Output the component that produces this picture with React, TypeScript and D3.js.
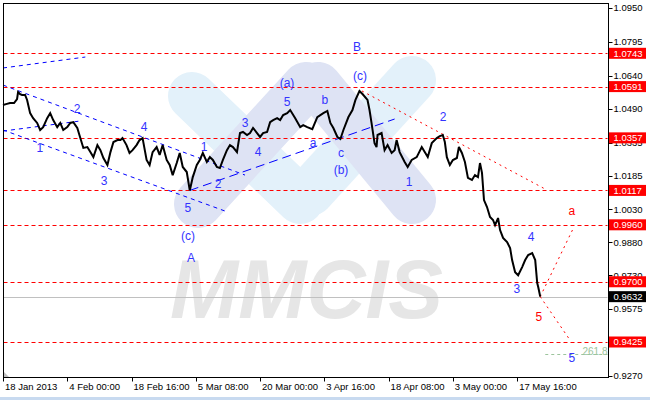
import React from "react";
import * as d3 from "d3";

// ---------- data ----------
const bars = [
  0, 3, 7, 11, 14, 15, 17, 19, 22, 24, 27, 30, 34, 37, 40, 44, 47, 50, 54, 57, 60, 64, 67, 70, 74, 77, 80, 84, 87, 90,
  94, 97, 100, 104, 107, 110, 114, 117, 119, 123, 126, 129, 133, 136, 139, 143, 146, 149, 153, 156, 159, 163, 166, 169,
  173, 176, 179, 183, 186, 189, 193, 196, 199, 203, 206, 209, 213, 216, 219, 223, 226, 229, 233, 236, 239, 243, 246, 249,
  253, 256, 259, 263, 266, 269, 273, 276, 279, 283, 286, 291, 296, 299, 303, 308, 313, 319, 323, 326, 329, 333, 336, 339,
  344, 348, 351, 355, 358, 363, 365, 367, 370, 372, 373, 377, 380, 383, 387, 390, 392, 395, 400, 403, 407, 412, 417, 420,
  423, 427, 432, 435, 438, 440, 442, 445, 448, 452, 454, 457, 460, 463, 467, 470, 473, 475, 477, 479, 482, 485, 488, 490,
  493, 495, 498, 502, 505, 507, 510, 513, 517, 520, 523, 527, 530, 532, 533, 535,
];
const closes = [
  1.0507, 1.0511, 1.0516, 1.0516, 1.0534, 1.0566, 1.0557, 1.0553, 1.0553, 1.053, 1.047, 1.0447, 1.0425, 1.0393, 1.0406,
  1.0447, 1.047, 1.0438, 1.0406, 1.0425, 1.0393, 1.0406, 1.0425, 1.0429, 1.0402, 1.0356, 1.0311, 1.0315, 1.0292, 1.0269,
  1.0324, 1.0301, 1.0265, 1.0233, 1.0292, 1.0338, 1.0347, 1.0347, 1.0356, 1.0324, 1.0288, 1.0301, 1.0324, 1.0347, 1.0356,
  1.0256, 1.0233, 1.0292, 1.0315, 1.0279, 1.0324, 1.0256, 1.0233, 1.0187, 1.0242, 1.0288, 1.0224, 1.0201, 1.0117, 1.0178,
  1.0233, 1.0256, 1.0288, 1.0247, 1.0269, 1.0256, 1.0224, 1.0219, 1.0256, 1.0301, 1.0324, 1.0315, 1.0292, 1.0379, 1.0384,
  1.037, 1.0379, 1.0402, 1.0379, 1.0361, 1.0379, 1.0384, 1.0429, 1.0438, 1.0447, 1.0438, 1.0461, 1.047, 1.0484, 1.0447,
  1.0406, 1.0415, 1.0406, 1.0397, 1.0452, 1.047, 1.048, 1.0425, 1.0402, 1.0361, 1.0352, 1.0393, 1.0452, 1.0484, 1.053,
  1.0571, 1.0557, 1.053, 1.0484, 1.0425, 1.0333, 1.0315, 1.037, 1.0379, 1.0301, 1.0324, 1.0288, 1.0301, 1.0347, 1.0292,
  1.0247, 1.0224, 1.0256, 1.0269, 1.0315, 1.0292, 1.0269, 1.0333, 1.0356, 1.0365, 1.037, 1.0338, 1.0269, 1.0233, 1.0256,
  1.0265, 1.0315, 1.0288, 1.0247, 1.0174, 1.0165, 1.0187, 1.0178, 1.0242, 1.0197, 1.0073, 1.0041, 0.9996, 0.9982, 0.9959,
  0.9991, 0.9936, 0.99, 0.9881, 0.9854, 0.9799, 0.9744, 0.973, 0.9767, 0.9799, 0.9822, 0.9831, 0.9799, 0.9694, 0.9676,
  0.9632,
];

const xTickBars = [0, 64, 128, 192, 256, 320, 384, 448, 512];
const xTickLabels = [
  "18 Jan 2013", "4 Feb 00:00", "18 Feb 16:00", "5 Mar 08:00", "20 Mar 00:00",
  "3 Apr 16:00", "18 Apr 08:00", "3 May 00:00", "17 May 16:00",
];
const yTickValues = [1.095, 1.0795, 1.064, 1.049, 1.0335, 1.0185, 1.003, 0.988, 0.973, 0.9575, 0.9425, 0.927];

const redLevels = [1.0743, 1.0591, 1.0357, 1.0117, 0.996, 0.97, 0.9425];
const currentPrice = 0.9632;
const fiboLevel = 0.937;

// annotation lines: [bar1, price1, bar2, price2]
const blueDashLines = [
  [0, 1.0676, 82, 1.0726],
  [0, 1.0598, 241, 1.0187],
  [0, 1.0393, 224, 1.0018],
  [0, 1.0388, 77, 1.0434],
];
const blueLongDashLines = [[186, 1.0117, 390, 1.0443]];
const redDotLines = [
  [357.5, 1.0571, 540, 1.0123],
  [535, 0.9632, 567.6, 0.9941],
  [535, 0.9632, 564.6, 0.9434],
];

// wave labels: [bar, price, text]
const blueLabels: [number, number, string][] = [
  [352.5, 1.0772, "B"], [355.5, 1.0639, "(c)"], [282.8, 1.0607, "(a)"], [282.8, 1.052, "5"],
  [320.6, 1.053, "b"], [241, 1.0424, "3"], [254, 1.0292, "4"], [308.7, 1.0333, "a"],
  [336.6, 1.0288, "c"], [336.6, 1.021, "(b)"], [200.2, 1.0315, "1"], [214.1, 1.0146, "2"],
  [184.2, 1.0036, "5"], [184.2, 0.9909, "(c)"], [187.2, 0.9808, "A"], [73.7, 1.0488, "2"],
  [140.4, 1.0406, "4"], [36.8, 1.0311, "1"], [100.6, 1.016, "3"], [438.2, 1.0452, "2"],
  [404.3, 1.0155, "1"], [525.8, 0.9904, "4"], [511.8, 0.9667, "3"], [566.6, 0.9352, "5"],
];
const redLabels: [number, number, string][] = [
  [533.7, 0.9539, "5"], [566.6, 1.0023, "a"],
];

// ---------- component ----------
export default function App() {
  const x = d3.scaleLinear().domain([0, 600]).range([3, 605.5]);
  const y = d3.scaleLinear().domain([0.92629, 1.09704]).range([377.5, 3.5]);
  const left = 3.5, right = 607.5, top = 3.5, bottom = 377.5;

  const pricePath = d3
    .line<number>()
    .x((_, i) => x(bars[i]))
    .y((d) => y(d))(closes) as string;

  const font = "'Liberation Sans', Arial, sans-serif";

  const seg = (l: number[], i: number, stroke: string, dash: string, w = 1) => (
    <line key={i} x1={x(l[0])} y1={y(l[1])} x2={x(l[2])} y2={y(l[3])} stroke={stroke} strokeWidth={w} strokeDasharray={dash} />
  );

  return (
    <svg width={650} height={400} style={{ position: "fixed", left: 0, top: 0, background: "#fff" }} fontFamily={font}>
      <rect x={0} y={0} width={650} height={400} fill="#fff" />
      {/* watermark logo */}
      <g strokeLinecap="round" strokeWidth={48} fill="none">
        <line x1={192} y1={96} x2={300} y2={200} stroke="#e3f1fa" />
        <line x1={412} y1={80} x2={310} y2={192} stroke="#e3f1fa" />
        <line x1={198} y1={204} x2={306} y2={86} stroke="#dee3f4" />
        <line x1={318} y1={86} x2={412} y2={200} stroke="#dee3f4" />
      </g>
      <text x={170} y={318} fontSize={84} fontWeight="bold" fontStyle="italic" fill="#e6e6e6" textLength={273} lengthAdjust="spacingAndGlyphs">
        MMCIS
      </text>

      {/* current price line */}
      <line x1={left} x2={right} y1={Math.round(y(currentPrice)) + 0.5} y2={Math.round(y(currentPrice)) + 0.5} stroke="#c0c0c0" strokeWidth={1} />

      {/* red level lines */}
      {redLevels.map((v, i) => {
        const yy = Math.round(y(v)) + 0.5;
        return <line key={i} x1={left} x2={right} y1={yy} y2={yy} stroke="#ff0000" strokeWidth={1} strokeDasharray="4,3" />;
      })}

      {/* fibo 261.8 */}
      <line x1={x(540)} x2={right} y1={Math.round(y(fiboLevel)) + 0.5} y2={Math.round(y(fiboLevel)) + 0.5} stroke="#9cc49c" strokeWidth={1} strokeDasharray="3,3" />
      <text x={x(589.5)} y={y(0.938)} fontSize={10} fill="#9cc49c" textAnchor="middle" dy="0.35em">261.8</text>

      {/* wave lines */}
      {blueDashLines.map((l, i) => seg(l, i, "#0000ff", "4,4"))}
      {blueLongDashLines.map((l, i) => seg(l, i, "#0000ff", "9,5"))}
      {redDotLines.map((l, i) => seg(l, i, "#ff0000", "2,4"))}

      {/* price line */}
      <path d={pricePath} fill="none" stroke="#000" strokeWidth={2} strokeLinejoin="miter" strokeMiterlimit={3} />

      {/* labels */}
      {blueLabels.map(([b, p, t], i) => (
        <text key={i} x={x(b)} y={y(p)} fontSize={12} fill="#3333ff" textAnchor="middle" dy="0.35em">{t}</text>
      ))}
      {redLabels.map(([b, p, t], i) => (
        <text key={i} x={x(b)} y={y(p)} fontSize={12} fill="#ff0000" textAnchor="middle" dy="0.35em">{t}</text>
      ))}

      {/* frame */}
      <rect x={left} y={top} width={right - left + 1} height={bottom - top} fill="none" stroke="#000" strokeWidth={1} />
      <polygon points={`4,372 4,377 9,377`} fill="#c0c0c0" />

      {/* right axis */}
      {yTickValues.map((v, i) => (
        <g key={i}>
          <line x1={right + 1} x2={right + 5} y1={Math.round(y(v)) + 0.5} y2={Math.round(y(v)) + 0.5} stroke="#000" />
          <text x={613.5} y={y(v)} dy="0.35em" fontSize={9.5} fill="#000">{v.toFixed(4)}</text>
        </g>
      ))}
      {redLevels.map((v, i) => (
        <g key={i}>
          <rect x={609} y={y(v) - 5.5} width={37} height={11} fill="#ff0000" />
          <text x={613.5} y={y(v)} dy="0.35em" fontSize={9.5} fill="#fff">{v.toFixed(4)}</text>
        </g>
      ))}
      <rect x={609} y={y(currentPrice) - 5.5} width={37} height={11} fill="#000" />
      <text x={613.5} y={y(currentPrice)} dy="0.35em" fontSize={9.5} fill="#fff">{currentPrice.toFixed(4)}</text>

      {/* bottom axis */}
      {xTickBars.map((b, i) => (
        <g key={i}>
          <line x1={Math.round(x(b)) + 0.5} x2={Math.round(x(b)) + 0.5} y1={bottom} y2={bottom + 4} stroke="#000" />
          <text x={x(b) + 2} y={390} fontSize={9.5} fill="#000">{xTickLabels[i]}</text>
        </g>
      ))}
      <rect x={0} y={397} width={650} height={3} fill="#c8daf0" />
    </svg>
  );
}
